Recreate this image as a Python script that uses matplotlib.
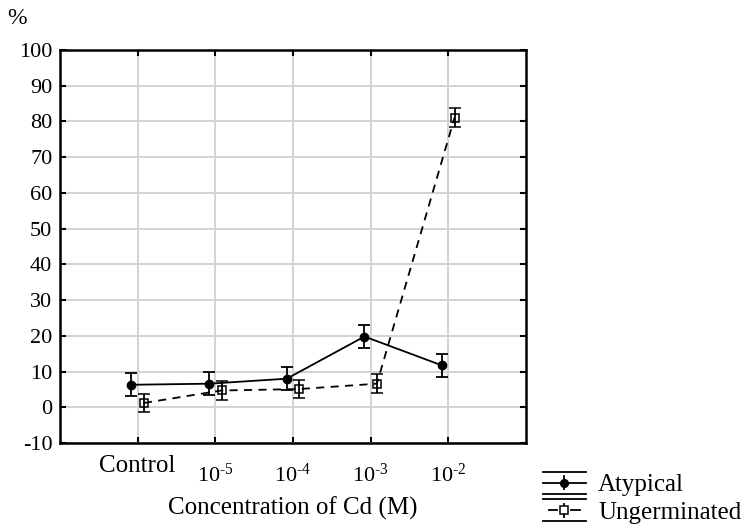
import numpy as np
import matplotlib
matplotlib.use('Agg')
import matplotlib.pyplot as plt
from matplotlib.lines import Line2D
from matplotlib.legend_handler import HandlerBase

plt.rcParams['font.family'] = ['Liberation Serif', 'DejaVu Serif']
plt.rcParams['mathtext.fontset'] = 'custom'
plt.rcParams['mathtext.rm'] = 'Liberation Serif'
plt.rcParams['mathtext.it'] = 'Liberation Serif:italic'
plt.rcParams['axes.unicode_minus'] = False

# data
categories = ['Control', '$10^{\u2010 5}$', '$10^{\u2010 4}$', '$10^{\u2010 3}$',
              '$10^{\u2010 2}$']
atypical = [6.3, 6.6, 8.0, 19.8, 11.7]
atypical_err = [3.2, 3.3, 3.3, 3.1, 3.2]
ungerminated = [1.2, 4.7, 5.1, 6.6, 81.1]
ungerminated_err = [2.6, 2.6, 2.6, 2.6, 2.7]
y_ticks = list(range(-10, 101, 10))


class CapHandler(HandlerBase):
    # legend handle: caps across the full width, bar, line and marker
    def __init__(self, ls, marker, mfc, ms):
        super().__init__()
        self.ls = ls
        self.marker = marker
        self.mfc = mfc
        self.ms = ms

    def create_artists(self, legend, orig_handle, xdescent, ydescent,
                       width, height, fontsize, trans):
        x0, x1 = -xdescent, -xdescent + width
        yb, yt = -ydescent, -ydescent + height
        ym = (yb + yt) / 2
        xm = (x0 + x1) / 2
        arts = [
            Line2D([x0, x1], [yt, yt], color='black', lw=1.3),
            Line2D([x0, x1], [yb, yb], color='black', lw=1.3),
            Line2D([xm, xm], [yb + 3, yt - 3], color='black', lw=1.3),
        ]
        if self.ls == '--':
            arts.append(Line2D([x0 + 4, xm - 5], [ym, ym], color='black', lw=1.3))
            arts.append(Line2D([xm + 5, x1 - 4], [ym, ym], color='black', lw=1.3))
        else:
            arts.append(Line2D([x0, x1], [ym, ym], color='black', lw=1.3))
        arts.append(Line2D([xm], [ym], marker=self.marker, ms=self.ms,
                           mfc=self.mfc, mec='black', mew=1.1, ls='none'))
        for a in arts:
            a.set_transform(trans)
        return arts


fig = plt.figure(figsize=(7.45, 5.29), dpi=100)
ax = fig.add_axes([60 / 745, 1 - 443 / 529, 466 / 745, 393 / 529])

x = np.arange(len(categories))
ax.errorbar(x - 0.08, atypical, yerr=atypical_err, color='black', lw=1.3,
            marker='o', ms=6, mfc='black', capsize=4.5, elinewidth=1.3,
            capthick=1.3, zorder=3)
ax.errorbar(x + 0.08, ungerminated, yerr=ungerminated_err, color='black',
            lw=1.3, ls=(0, (4.5, 3.5)), marker='s', ms=6, mfc='none',
            mec='black', mew=1.1, capsize=4.5, elinewidth=1.3, capthick=1.3,
            zorder=3)

ax.set_xlim(-1, 5)
ax.set_ylim(-10, 100)
ax.set_xticks(x)
ax.set_xticklabels([''] + categories[1:])
ax.set_yticks(y_ticks)
ax.grid(True, color='#d3d3d3', lw=1.4)
ax.set_axisbelow(True)
ax.tick_params(direction='in', top=True, right=True, length=4, width=1.5,
               labelsize=16, pad=5.5)
ax.tick_params(axis='x', labelsize=16, pad=15)
# the Control label sits a little higher than the powers of ten
ax.annotate(categories[0], xy=(0, 0), xycoords=('data', 'axes fraction'),
            xytext=(0, -9), textcoords='offset points', ha='center', va='top',
            fontsize=18)
for sp in ax.spines.values():
    sp.set_linewidth(1.8)

fig.text(17 / 745, 1 - 18 / 529, '%', ha='center', va='center', fontsize=17)
fig.text(293 / 745, 1 - 508 / 529, 'Concentration of Cd (M)', ha='center',
         va='center', fontsize=18)

h1 = Line2D([], [], color='black')
h2 = Line2D([], [], color='black', ls='--')
fig.legend([h1, h2], ['Atypical', 'Ungerminated'],
           handler_map={h1: CapHandler('-', 'o', 'black', 5.5),
                        h2: CapHandler('--', 's', 'white', 5.5)},
           loc='upper left', bbox_to_anchor=(543 / 745, 1 - 472 / 529),
           frameon=False, fontsize=18, handlelength=1.7, handleheight=0.95,
           handletextpad=0.5, labelspacing=0.12, borderpad=0, borderaxespad=0)

fig.savefig('out.png', dpi=100)
